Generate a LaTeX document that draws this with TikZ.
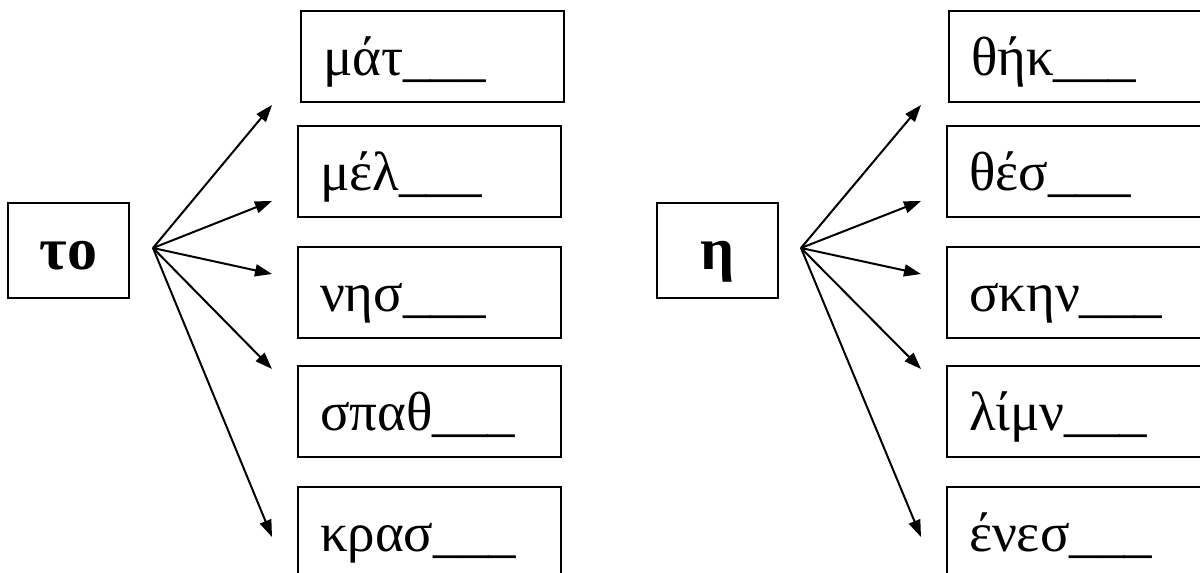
\documentclass[tikz,border=0pt]{standalone}
\usepackage{fontspec}
\setmainfont{Liberation Serif}
\usetikzlibrary{arrows.meta}

\begin{document}
\begin{tikzpicture}[x=1pt, y=-1pt,
    article/.style={draw, line width=2pt, anchor=north west, minimum width=121pt, minimum height=95pt,
      inner sep=0pt, text height=66pt, text depth=29pt, font=\fontsize{60}{66}\selectfont\bfseries},
    word/.style={draw, line width=2pt, anchor=north west, inner xsep=22pt, inner ysep=0pt,
      text width=219pt, align=left, text height=64pt, text depth=27pt, font=\fontsize{55}{62}\selectfont},
    wide/.style={word, text width=300pt},
    link/.style={line width=2pt, -{Triangle[length=17pt,width=12pt]}}]
        \useasboundingbox (0,0) rectangle (1200,573);
        \clip (0,0) rectangle (1200,573);
        % left group: neuter article
        \node[article] (to) at (7,202) {το};
        \node[word] (mat) at (300,10) {μάτ\_\_\_};
        \node[word] (mel) at (297,125) {μέλ\_\_\_};
        \node[word] (nis) at (297,246) {νησ\_\_\_};
        \node[word] (spath) at (297,365) {σπαθ\_\_\_};
        \node[word] (kras) at (297,486) {κρασ\_\_\_};
        \coordinate (fanL) at (153,248);
        \foreach \y [count=\i] in {105,201,274,369,537} {
          \coordinate (tipL\i) at (272,\y);
          \draw[link] (fanL) -- (tipL\i);
        }
        % right group: feminine article
        \node[article] (eta) at (656,202) {η};
        \node[wide] (thik) at (948,10) {θήκ\_\_\_};
        \node[wide] (thes) at (946,125) {θέσ\_\_\_};
        \node[wide] (skin) at (946,246) {σκην\_\_\_};
        \node[wide] (limn) at (946,365) {λίμν\_\_\_};
        \node[wide] (enes) at (946,486) {ένεσ\_\_\_};
        \coordinate (fanR) at (801,248);
        \foreach \y [count=\i] in {105,201,274,369,537} {
          \coordinate (tipR\i) at (921,\y);
          \draw[link] (fanR) -- (tipR\i);
        }
      \end{tikzpicture}
\end{document}
